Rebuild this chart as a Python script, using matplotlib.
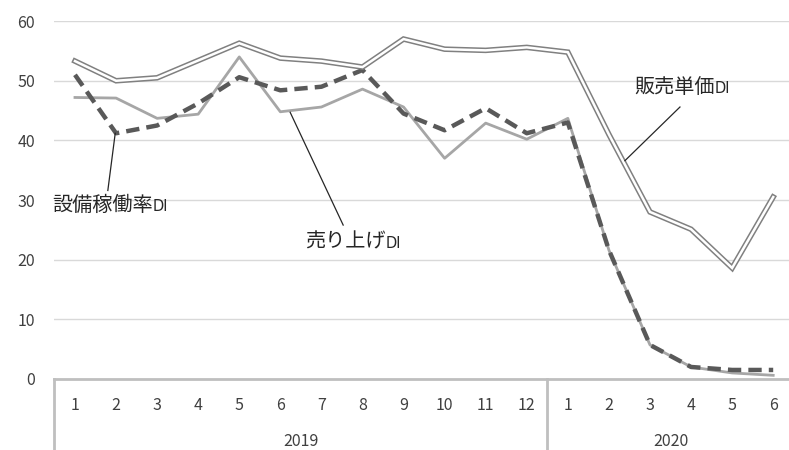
import matplotlib
matplotlib.use("Agg")
import matplotlib.pyplot as plt
import matplotlib.transforms as mtransforms

plt.rcParams['font.family'] = ['Noto Sans CJK JP', 'DejaVu Sans']

# データ (2019/1 - 2020/6)
months = ['1', '2', '3', '4', '5', '6', '7', '8', '9', '10', '11', '12',
          '1', '2', '3', '4', '5', '6']
years = ['2019', '2020']
year_spans = [(0, 11), (12, 17)]

hanbai_tanka = [53.3, 50.0, 50.5, 53.4, 56.3, 53.8, 53.3, 52.3, 57.0, 55.3, 55.1, 55.6,
                54.8, 41.0, 28.0, 25.1, 18.6, 30.5]
uriage = [47.2, 47.1, 43.7, 44.4, 54.0, 44.8, 45.6, 48.6, 45.6, 37.0, 42.9, 40.2,
          43.7, 21.6, 5.7, 2.0, 1.0, 0.6]
setsubi = [51.0, 41.2, 42.5, 46.2, 50.6, 48.4, 49.0, 51.8, 44.5, 41.7, 45.4, 41.2,
           43.0, 21.6, 5.7, 2.0, 1.5, 1.5]

x = list(range(len(months)))

fig = plt.figure(figsize=(7.89, 4.5), dpi=100)
ax = fig.add_axes([0.069, 0.158, 0.937, 0.795])

# 目盛り線
for v in range(10, 70, 10):
    ax.axhline(v, color='#d9d9d9', lw=1.0, zorder=0)

# 売り上げDI
ax.plot(x, uriage, color='#a6a6a6', lw=2.0, zorder=2)
# 設備稼働率DI
ax.plot(x, setsubi, color='#595959', lw=3.2, ls=(0, (3, 1.6)), zorder=3)
# 販売単価DI (二重線)
ax.plot(x, hanbai_tanka, color='#808080', lw=4.0, zorder=4, solid_joinstyle='miter')
ax.plot(x, hanbai_tanka, color='white', lw=1.8, zorder=5, solid_joinstyle='miter')

ax.set_xlim(-0.5, 17.5)
ax.set_ylim(0, 60)
ax.set_yticks(range(0, 70, 10))
ax.tick_params(axis='y', length=0, pad=14, labelsize=11.5, labelcolor='#404040')
ax.set_xticks([])
for s in ['top', 'right', 'left']:
    ax.spines[s].set_visible(False)
ax.spines['bottom'].set_color('#bfbfbf')
ax.spines['bottom'].set_linewidth(2.0)

# 月・年ラベル
trans = mtransforms.blended_transform_factory(ax.transData, ax.transAxes)
for i, m in enumerate(months):
    ax.text(i, -0.075, m, transform=trans, ha='center', va='center',
            fontsize=11.5, color='#404040')
for yr, (a, b) in zip(years, year_spans):
    ax.text((a + b) / 2, -0.175, yr, transform=trans, ha='center', va='center',
            fontsize=11.5, color='#404040')
for sep in [-0.5, 11.5]:
    ax.plot([sep, sep], [0, -0.2], transform=trans, color='#bfbfbf', lw=2.0,
            clip_on=False)

# 注釈 (文字 + 引き出し線)
def label(xt, yt, jp, xa, ya, xb, yb):
    ax.plot([xa, xb], [ya, yb], color='#262626', lw=0.9, zorder=6)
    t = ax.text(xt, yt, jp, ha='left', va='baseline', fontsize=14.5, color='#262626')
    fig.canvas.draw()
    bb = t.get_window_extent().transformed(ax.transData.inverted())
    ax.text(bb.x1, yt, 'DI', ha='left', va='baseline', fontsize=10.5,
            family=['DejaVu Sans'], color='#262626')

label(-0.56, 28.2, '設備稼働率', 0.80, 31.6, 0.98, 41.2)
label(5.6, 22.0, '売り上げ', 6.53, 25.8, 5.24, 44.7)
label(13.62, 47.9, '販売単価', 14.73, 45.6, 13.39, 36.6)

fig.savefig('out.png', dpi=100)
